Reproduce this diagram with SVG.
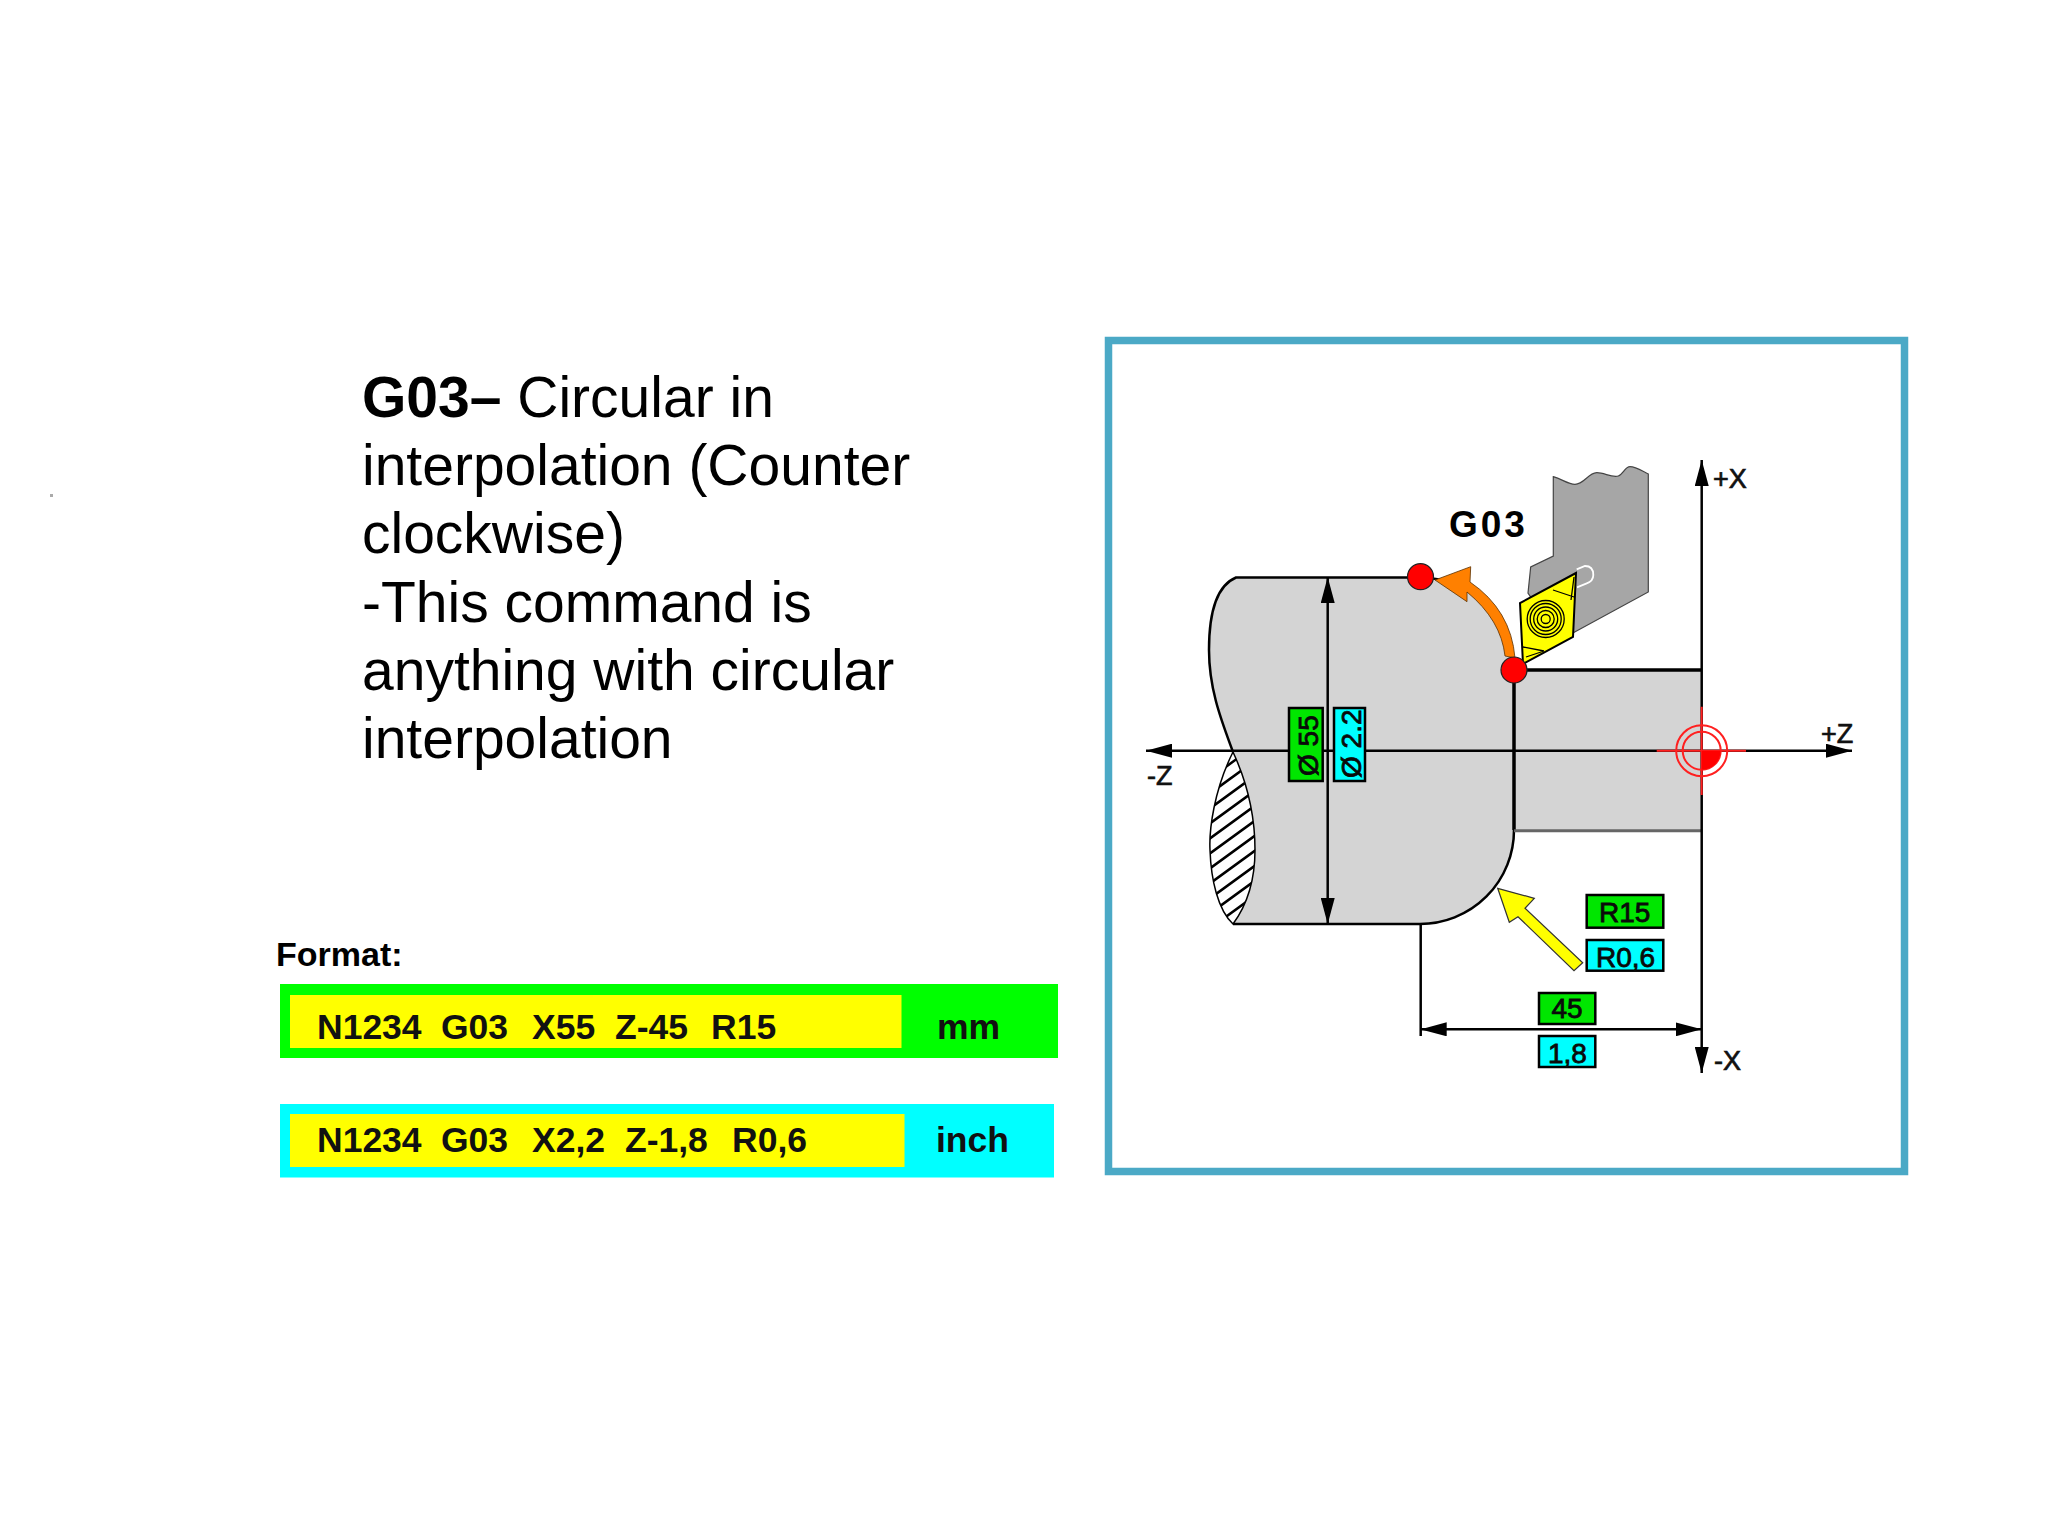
<svg xmlns="http://www.w3.org/2000/svg" width="2048" height="1536" viewBox="0 0 2048 1536">
<style>
text{font-family:"Liberation Sans",Arial,sans-serif;fill:#000}
.t{font-size:57px}
.b{font-weight:bold}
.code{font-size:35.500px;font-weight:bold;fill:#111}
.lab{font-size:28px;fill:#0a0a0a;stroke:#0a0a0a;stroke-width:.8}
.ax{font-size:27px;fill:#111;stroke:#111;stroke-width:.7}
.l{fill:none;stroke:#000;stroke-width:2.5}
.box{stroke:#000;stroke-width:2.5}
.g{fill:#00e600}
.c{fill:#00ffff}
.dot{fill:#ff0000;stroke:#222;stroke-width:1.2}
.red{fill:none;stroke:#ff2020;stroke-width:2}
</style>
<defs>
<marker id="ah" viewBox="0 0 26 14" refX="26" refY="7" markerWidth="26" markerHeight="14" markerUnits="userSpaceOnUse" orient="auto-start-reverse"><path d="M0 0L26 7L0 14z" fill="#000"/></marker>
<clipPath id="lens"><path d="M1233 752C1214 790 1209 830 1210 850C1211 880 1218 910 1233 924C1247 905 1255 880 1255 850C1255 815 1246 780 1233 752z"/></clipPath>
</defs>
<rect width="2048" height="1536" fill="#fff"/>
<rect x="50" y="494" width="3" height="3" fill="#aaa"/>

<g id="description">
<text class="t" x="362" y="417"><tspan class="b">G03–</tspan> Circular in</text>
<text class="t" x="362" y="485">interpolation (Counter</text>
<text class="t" x="362" y="553">clockwise)</text>
<text class="t" x="362" y="622">-This command is</text>
<text class="t" x="362" y="690">anything with circular</text>
<text class="t" x="362" y="758">interpolation</text>
</g>

<g id="format">
<text class="b" x="276" y="966" font-size="34">Format:</text>
<rect x="280" y="984" width="778" height="74" fill="#00ff00"/>
<rect x="290" y="995" width="611.500" height="53" fill="#ffff00"/>
<text class="code" x="317" y="1039">N1234</text><text class="code" x="441" y="1039">G03</text><text class="code" x="532" y="1039">X55</text><text class="code" x="615" y="1039">Z-45</text><text class="code" x="711" y="1039">R15</text><text class="code" x="937" y="1039">mm</text>
<rect x="280" y="1104" width="774" height="73.500" fill="#00ffff"/>
<rect x="290" y="1114" width="614.500" height="53" fill="#ffff00"/>
<text class="code" x="317" y="1152">N1234</text><text class="code" x="441" y="1152">G03</text><text class="code" x="532" y="1152">X2,2</text><text class="code" x="625" y="1152">Z-1,8</text><text class="code" x="732" y="1152">R0,6</text><text class="code" x="936" y="1152">inch</text>
</g>

<rect id="frame" x="1108.500" y="340.500" width="796" height="831" fill="#fff" stroke="#4ba9c6" stroke-width="7.500"/>

<g id="workpiece">
<path d="M1514 670H1701.700V830.700H1514z" fill="#d4d4d4"/>
<path d="M1235 577.500H1420A94 94 0 0 1 1514 670V830A94 94 0 0 1 1420 924H1233V752C1222 722 1209 690 1209 650C1209 610 1218 585 1235 577.500z" fill="#d4d4d4"/>
<path d="M1233 752C1222 722 1209 690 1209 650C1209 610 1218 585 1236 577.500H1420A94 94 0 0 1 1514 670" class="l"/>
<path d="M1514 830A94 94 0 0 1 1420 924H1233" class="l"/>
<path d="M1514 670H1701.700" fill="none" stroke="#000" stroke-width="3.500"/>
<path d="M1514 670V830" fill="none" stroke="#000" stroke-width="3.500"/>
<path d="M1514 830.700H1701.700" fill="none" stroke="#666" stroke-width="3"/>
<path d="M1233 752C1214 790 1209 830 1210 850C1211 880 1218 910 1233 924C1247 905 1255 880 1255 850C1255 815 1246 780 1233 752z" fill="#fff"/>
<g clip-path="url(#lens)" stroke="#000" stroke-width="2.500">
<path d="M1205 782L1260 742M1205 797L1260 757M1205 812L1260 772M1205 827L1260 787M1205 842L1260 802M1205 857L1260 817M1205 872L1260 832M1205 887L1260 847M1205 902L1260 862M1205 917L1260 877M1205 932L1260 892M1205 947L1260 907"/>
</g>
<path d="M1233 752C1214 790 1209 830 1210 850C1211 880 1218 910 1233 924C1247 905 1255 880 1255 850C1255 815 1246 780 1233 752z" fill="none" stroke="#000" stroke-width="1.500"/>
</g>

<g id="tool">
<path d="M1553.300 476.700C1562 479 1568 484.300 1575 484.300C1584 484.300 1588 473 1596.700 472.700C1604 472.500 1612 478 1618.300 476C1623 474.500 1625 466.700 1630 466.700C1636 466.700 1642 471 1648.300 474V592L1560 640L1528 593L1530.700 567L1553.300 556z" fill="#a6a6a6" stroke="#444" stroke-width="1.200"/>
<path d="M1576.700 569.300L1585 566Q1593.300 566 1593.300 575Q1593.300 581 1586.700 583.300L1577 587.300" fill="none" stroke="#fff" stroke-width="1.800"/>
<path d="M1576 573L1520 603L1523 664L1573 637z" fill="#ffff00" stroke="#000" stroke-width="2"/>
<g fill="none" stroke="#000" stroke-width="1.300">
<circle cx="1545.700" cy="619" r="18.500"/><circle cx="1545.700" cy="619" r="15.500"/><circle cx="1545.700" cy="619" r="12"/><circle cx="1545.700" cy="619" r="8.500"/><circle cx="1545.700" cy="619" r="4.500"/>
<path d="M1553 590L1574 597M1523 647L1544 651M1526 657L1544 651M1574 577L1571 600"/>
</g>
</g>

<g id="connectors">
<path class="l" d="M1146 750.700H1852" marker-start="url(#ah)" marker-end="url(#ah)"/>
<path class="l" d="M1701.700 460V1073" marker-start="url(#ah)" marker-end="url(#ah)"/>
<path class="l" d="M1327.700 577V924" marker-start="url(#ah)" marker-end="url(#ah)"/>
<path class="l" d="M1420.700 1029.300H1701.700" marker-start="url(#ah)" marker-end="url(#ah)"/>
<path class="l" d="M1420.700 924V1036"/>
</g>

<g id="origin">
<path d="M1656.700 750.700H1746M1701.700 706.700V795" class="red"/>
<circle cx="1701.700" cy="750.700" r="25.500" class="red"/>
<circle cx="1701.700" cy="750.700" r="19" class="red"/>
<path d="M1701.700 750.700H1720.700A19 19 0 0 1 1701.700 769.700z" fill="#ff0000"/>
</g>

<g id="motion">
<path d="M1515 658Q1511 610 1470 582L1470.700 566.700L1435 580L1467 601.700L1467 592Q1501 620 1505 656z" fill="#ff8000" stroke="#5a3000" stroke-width="0.800"/>
<circle class="dot" cx="1420.500" cy="576.700" r="13"/>
<circle class="dot" cx="1514" cy="670" r="13"/>
<text class="b" x="1449" y="537" font-size="37" letter-spacing="3" fill="#111">G03</text>
</g>

<path id="radius-pointer" d="M1497.700 888.300L1534.300 898.300L1525 908.300L1582.700 962.700L1574 970.700L1518 916.700L1509.300 922.300z" fill="#ffff00" stroke="#333" stroke-width="1.200"/>

<g id="labels">
<rect class="box g" x="1289" y="708" width="33.700" height="73"/>
<rect class="box c" x="1334" y="708" width="31" height="73"/>
<text class="lab" transform="translate(1318 776) rotate(-90)">Ø 55</text>
<text class="lab" transform="translate(1360.500 778) rotate(-90)">Ø 2.2</text>
<rect class="box g" x="1586.700" y="895" width="76.600" height="32.700"/>
<text class="lab" x="1599" y="922">R15</text>
<rect class="box c" x="1586.700" y="940" width="76.600" height="30.700"/>
<text class="lab" x="1596" y="966.700">R0,6</text>
<rect class="box g" x="1539" y="993" width="56.300" height="31"/>
<text class="lab" x="1551.500" y="1018">45</text>
<rect class="box c" x="1539" y="1036" width="56.300" height="31"/>
<text class="lab" x="1548" y="1063">1,8</text>
<text class="ax" x="1713" y="488">+X</text>
<text class="ax" x="1714" y="1070">-X</text>
<text class="ax" x="1821" y="743">+Z</text>
<text class="ax" x="1147" y="785">-Z</text>
</g>
</svg>
